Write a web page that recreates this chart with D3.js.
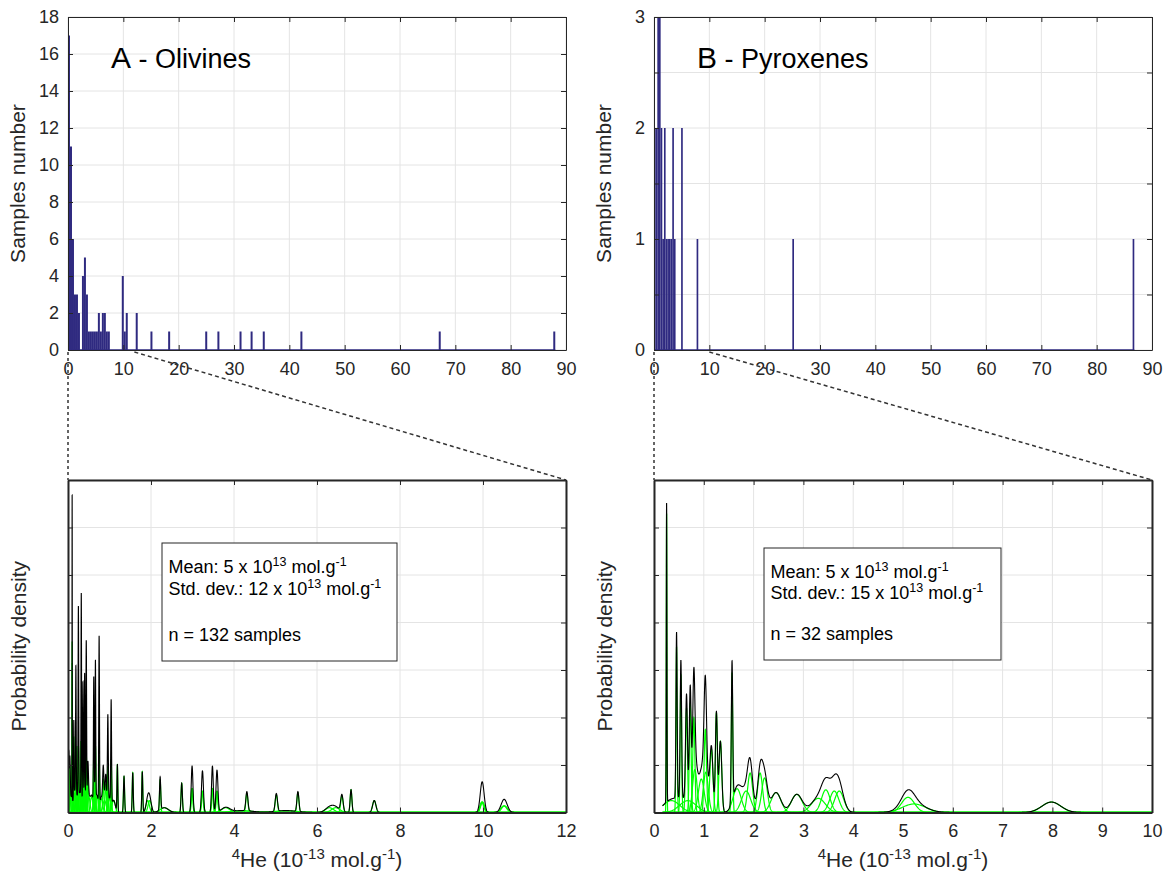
<!DOCTYPE html>
<html lang="en">
<head>
<meta charset="UTF-8" />
<title>4He olivines / pyroxenes</title>
<script src="https://cdn.jsdelivr.net/npm/d3@7"></script>
<style>
  body { margin: 0; background: #fff; }
  svg { font-family: 'Liberation Sans', Arial, Helvetica, sans-serif; }
</style>
</head>
<body>
<svg width="1169" height="879"></svg>
<script>
  // ---- data ----
  // histograms : left edge of each bin (10^-13 mol/g) and number of samples
  var oliBinW = 0.36;
  var oliHistX = [0, 0.36, 0.72, 1.08, 1.44, 1.8, 2.52, 2.88, 3.24, 3.6, 3.96, 4.32, 4.68, 5.04, 5.4, 5.76, 6.12, 6.48, 6.84, 7.2,
                  9.72, 10.08, 10.44, 12.24, 14.9, 18.1, 24.8, 27.0, 31.0, 33.0, 35.2, 42.0, 67.0, 87.7];
  var oliHistN = [17, 11, 6, 3, 3, 2, 4, 5, 3, 1, 1, 1, 1, 1, 2, 1, 2, 2, 1, 1,
                  4, 1, 2, 2, 1, 1, 1, 1, 1, 1, 1, 1, 1, 1];

  var pyxBinW = 0.3;
  var pyxHistX = [0, 0.3, 0.6, 0.9, 1.2, 1.5, 1.8, 2.1, 2.4, 2.7, 3.0, 3.3, 3.6, 4.9, 7.7, 25.0, 86.5];
  var pyxHistN = [2, 2, 3, 3, 2, 1, 2, 1, 1, 1, 1, 2, 1, 2, 1, 1, 1];

  // probability density : one gaussian per sample (value, 1 sigma)
  var oliN = 132;
  var oliMu = [0.02, 0.045, 0.099, 0.101, 0.14, 0.188, 0.192, 0.248, 0.25, 0.253, 0.318, 0.32, 0.322, 0.36, 0.362,
               0.4, 0.402, 0.438, 0.44, 0.442, 0.48, 0.62, 0.622, 0.66, 0.662, 0.748, 0.75, 0.752, 0.85, 0.91,
               0.958, 0.962, 1.038, 1.042, 1.19, 1.35, 1.56, 1.79, 1.92, 1.97, 2.22, 2.32, 2.74, 2.985, 2.995,
               3.235, 3.245, 3.475, 3.485, 3.585, 3.595, 3.8, 4.2, 4.31, 5.02, 5.25, 5.54, 6.3, 6.45, 6.6, 6.82,
               7.38, 9.97, 9.98, 9.99, 10.5, 10.52,
               0.08, 0.16, 0.22, 0.29, 0.38, 0.5, 0.57, 0.64, 0.7, 0.8, 0.88, 1.0, 1.1];
  var oliSigma = [0.0084, 0.0101, 0.0028, 0.0032, 0.0063, 0.0072, 0.0072, 0.0072, 0.0072, 0.0072, 0.0067, 0.0067, 0.0067, 0.0081, 0.0081,
                  0.0075, 0.0075, 0.0084, 0.0084, 0.0084, 0.0126, 0.0081, 0.0081, 0.0072, 0.0072, 0.0084, 0.0084, 0.0084, 0.0144, 0.0168,
                  0.0106, 0.0106, 0.0092, 0.0092, 0.0101, 0.0133, 0.012, 0.0117, 0.04, 0.04, 0.0146, 0.1, 0.0163, 0.02, 0.02,
                  0.0224, 0.0224, 0.02, 0.02, 0.0224, 0.0224, 0.1, 0.25, 0.025, 0.027, 0.25, 0.024, 0.1, 0.1, 0.029, 0.021,
                  0.04, 0.046, 0.046, 0.046, 0.072, 0.072,
                  0.03, 0.025, 0.03, 0.025, 0.03, 0.03, 0.03, 0.025, 0.03, 0.035, 0.04, 0.035, 0.04];

  var pyxN = 32;
  var pyxMu = [0.253, 0.35, 0.453, 0.54, 0.653, 0.68, 0.727, 0.8, 0.82, 0.95, 1.03, 1.04, 1.153, 1.253, 1.333, 1.567,
               1.667, 1.85, 1.93, 2.13, 2.22, 2.45, 2.867, 3.3, 3.45, 3.62, 3.72, 5.1, 5.22, 7.98, 25.0, 86.5];
  var pyxSigma = [0.0066, 0.166, 0.0119, 0.0143, 0.0189, 0.166, 0.0181, 0.0208, 0.046, 0.059, 0.0238, 0.049, 0.031, 0.0198, 0.0277, 0.0141,
                  0.083, 0.092, 0.05, 0.05, 0.057, 0.099, 0.109, 0.139, 0.087, 0.092, 0.092, 0.13, 0.231, 0.189, 0.6, 2.0];

  // ticks
  var histXTicks = d3.range(0, 91, 10);
  var oliYTicks = d3.range(0, 19, 2);
  var pyxYTicks = d3.range(0, 3.01, 0.5);
  var oliDensXTicks = d3.range(0, 13, 2);
  var pyxDensXTicks = d3.range(0, 11, 1);
  var densYTicks = d3.range(0, 2.11, 0.3);

  var stats = {
    A: { title: 'A', name: ' - Olivines', mean: '5', sd: '12', n: oliN },
    B: { title: 'B', name: ' - Pyroxenes', mean: '5', sd: '15', n: pyxN }
  };

  // ---- layout ----
  var svg = d3.select('svg');
  var ink = '#262626';
  var navy = '#2f2a80';
  var rowTop = { y0: 17, y1: 350 }, rowBot = { y0: 480, y1: 812.5 };
  var colA = { x0: 68, x1: 566 }, colB = { x0: 654, x1: 1152 };

  function gauss(x, m, s) {
    return Math.exp(-0.5 * ((x - m) / s) * ((x - m) / s)) / (s * Math.sqrt(2 * Math.PI));
  }

  function frame(g, x, y, xTicks, yTicks, clipId) {
    // grid
    g.append('g').selectAll('line').data(xTicks).enter().append('line')
      .attr('x1', d => x(d)).attr('x2', d => x(d)).attr('y1', y.range()[0]).attr('y2', y.range()[1])
      .attr('stroke', '#e4e4e4').attr('stroke-width', 1);
    g.append('g').selectAll('line').data(yTicks).enter().append('line')
      .attr('y1', d => y(d)).attr('y2', d => y(d)).attr('x1', x.range()[0]).attr('x2', x.range()[1])
      .attr('stroke', '#e4e4e4').attr('stroke-width', 1);
    g.append('clipPath').attr('id', clipId).append('rect')
      .attr('x', x.range()[0]).attr('y', y.range()[1])
      .attr('width', x.range()[1] - x.range()[0]).attr('height', y.range()[0] - y.range()[1]);
  }

  function axes(g, x, y, xTicks, yTicks, yFmt, width) {
    var yb = y.range()[0], yt = y.range()[1], xl = x.range()[0], xr = x.range()[1];
    var ax = g.append('g');
    ax.append('g').attr('transform', 'translate(0,' + yb + ')')
      .call(d3.axisBottom(x).tickValues(xTicks).tickSizeInner(-5).tickSizeOuter(0).tickPadding(12).tickFormat(d3.format('d')));
    ax.append('g').attr('transform', 'translate(0,' + yt + ')')
      .call(d3.axisTop(x).tickValues(xTicks).tickSizeInner(-5).tickSizeOuter(0).tickFormat(''));
    ax.append('g').attr('transform', 'translate(' + xl + ',0)')
      .call(d3.axisLeft(y).tickValues(yTicks).tickSizeInner(-5).tickSizeOuter(0).tickPadding(9).tickFormat(yFmt));
    ax.append('g').attr('transform', 'translate(' + xr + ',0)')
      .call(d3.axisRight(y).tickValues(yTicks).tickSizeInner(-5).tickSizeOuter(0).tickFormat(''));
    ax.selectAll('.domain').attr('stroke', ink).attr('stroke-width', width);
    ax.selectAll('.tick line').attr('stroke', ink).attr('stroke-width', 1);
    ax.selectAll('.tick text').attr('fill', ink).attr('font-size', 18).attr('font-family', null);
  }

  function histogram(col, hx, hn, binW, yMax, yTicks, yFmt, key) {
    var g = svg.append('g');
    var x = d3.scaleLinear().domain([0, 90]).range([col.x0, col.x1]);
    var y = d3.scaleLinear().domain([0, yMax]).range([rowTop.y1, rowTop.y0]);
    frame(g, x, y, histXTicks, yTicks, 'clipH' + key);

    var bars = g.append('g').attr('clip-path', 'url(#clipH' + key + ')');
    bars.append('line')
      .attr('x1', x(0)).attr('x2', x(d3.max(hx) + binW)).attr('y1', y(0)).attr('y2', y(0))
      .attr('stroke', navy).attr('stroke-width', 1.5);
    bars.selectAll('rect').data(hx).enter().append('rect')
      .attr('x', d => x(d))
      .attr('width', d => Math.max(1.6, x(d + binW) - x(d)))
      .attr('y', (d, i) => y(hn[i]))
      .attr('height', (d, i) => y(0) - y(hn[i]))
      .attr('fill', navy);

    axes(g, x, y, histXTicks, yTicks, yFmt, 1);

    g.append('text').attr('transform', 'translate(' + (col.x0 - 43) + ',' + ((rowTop.y0 + rowTop.y1) / 2) + ') rotate(-90)')
      .attr('text-anchor', 'middle').attr('font-size', 21).attr('fill', ink).text('Samples number');

    var t = g.append('text').attr('x', col.x0 + 43).attr('y', 68).attr('fill', '#000');
    t.append('tspan').attr('font-size', 30).text(stats[key].title);
    t.append('tspan').attr('font-size', 27).text(stats[key].name);
    return x;
  }

  // text with superscripts : odd entries of parts are raised
  function richText(t, parts, supSize, rise) {
    var up = false;
    parts.forEach(function (p, k) {
      var s = t.append('tspan').text(p);
      if (k % 2 === 1) { s.attr('font-size', supSize).attr('dy', -rise); up = true; }
      else if (up) { s.attr('dy', rise); up = false; }
    });
  }

  function density(col, mu, sig, n, from, to, xTicks, key) {
    var g = svg.append('g');
    var x = d3.scaleLinear().domain([0, to]).range([col.x0, col.x1]);
    var y = d3.scaleLinear().domain([0, 2.1]).range([rowBot.y1, rowBot.y0]);
    frame(g, x, y, xTicks, densYTicks, 'clipD' + key);

    var inRange = mu.map((m, i) => i).filter(i => mu[i] - 5 * sig[i] < to);
    var line = d3.line().x(d => x(d[0])).y(d => y(d[1]));
    var curves = g.append('g').attr('clip-path', 'url(#clipD' + key + ')');

    // sum of all samples (black)
    var xs = d3.range(from, to, 0.004).concat([to]);
    inRange.forEach(function (i) {
      d3.range(-5, 5.001, 0.1).forEach(function (k) {
        var v = mu[i] + k * sig[i];
        if (v >= from && v <= to) xs.push(v);
      });
    });
    xs.sort(d3.ascending);
    var sum = xs.map(v => [v, d3.sum(inRange, i => gauss(v, mu[i], sig[i])) / n]);

    // individual samples (green)
    curves.append('line').attr('x1', x(from)).attr('x2', x(to)).attr('y1', y(0)).attr('y2', y(0))
      .attr('stroke', '#00ff00').attr('stroke-width', 2.5);
    curves.selectAll('path.one').data(inRange).enter().append('path').attr('class', 'one')
      .attr('d', function (i) {
        var pts = d3.range(-5, 5.001, 0.05).map(k => mu[i] + k * sig[i])
          .filter(v => v >= from && v <= to)
          .map(v => [v, gauss(v, mu[i], sig[i]) / n]);
        return line(pts);
      })
      .attr('fill', 'none').attr('stroke', '#00ff00').attr('stroke-width', 1.2);
    curves.append('path').attr('d', line(sum))
      .attr('fill', 'none').attr('stroke', '#000').attr('stroke-width', 1.1);

    axes(g, x, y, xTicks, densYTicks, '', 2);

    g.append('text').attr('transform', 'translate(' + (col.x0 - 42) + ',' + ((rowBot.y0 + rowBot.y1) / 2) + ') rotate(-90)')
      .attr('text-anchor', 'middle').attr('font-size', 21).attr('fill', ink).text('Probability density');

    var xl = g.append('text').attr('x', (col.x0 + col.x1) / 2).attr('y', 867)
      .attr('text-anchor', 'middle').attr('font-size', 21).attr('fill', ink);
    richText(xl, ['', '4', 'He (10', '-13', ' mol.g', '-1', ')'], 15, 8);
    return g;
  }

  function legend(g, bx, by, bw, bh, s, lines) {
    g.append('rect').attr('x', bx).attr('y', by).attr('width', bw).attr('height', bh)
      .attr('fill', '#fff').attr('stroke', ink).attr('stroke-width', 1);
    function row(yy, parts) {
      var t = g.append('text').attr('x', bx + 6.5).attr('y', yy).attr('font-size', 18).attr('fill', '#000');
      richText(t, parts, 12.5, 7);
    }
    row(lines[0], ['Mean: ' + s.mean + ' x 10', '13', ' mol.g', '-1']);
    row(lines[1], ['Std. dev.: ' + s.sd + ' x 10', '13', ' mol.g', '-1']);
    row(lines[2], ['n = ' + s.n + ' samples']);
  }

  // ---- panels ----
  var xHA = histogram(colA, oliHistX, oliHistN, oliBinW, 18, oliYTicks, d3.format('d'), 'A');
  var xHB = histogram(colB, pyxHistX, pyxHistN, pyxBinW, 3, pyxYTicks, d => Number.isInteger(d) ? d : '', 'B');

  var gA = density(colA, oliMu, oliSigma, oliN, 0, 12, oliDensXTicks, 'A');
  var gB = density(colB, pyxMu, pyxSigma, pyxN, 0.17, 10, pyxDensXTicks, 'B');

  legend(gA, 162, 543, 235, 118, stats.A, [573, 595, 641]);
  legend(gB, 764, 548, 237, 112, stats.B, [578, 599, 640]);

  // zoom connectors between the histogram axis and the density panel
  function connector(col, xTop, zoomTo) {
    svg.append('line').attr('x1', xTop(0)).attr('x2', col.x0).attr('y1', rowTop.y1 + 2).attr('y2', rowBot.y0)
      .attr('stroke', '#333').attr('stroke-width', 1.5).attr('stroke-dasharray', '3,3');
    svg.append('line').attr('x1', xTop(zoomTo)).attr('x2', col.x1).attr('y1', rowTop.y1 + 2).attr('y2', rowBot.y0)
      .attr('stroke', '#333').attr('stroke-width', 1.5).attr('stroke-dasharray', '4,3');
  }
  connector(colA, xHA, 12);
  connector(colB, xHB, 10);
</script>
</body>
</html>
